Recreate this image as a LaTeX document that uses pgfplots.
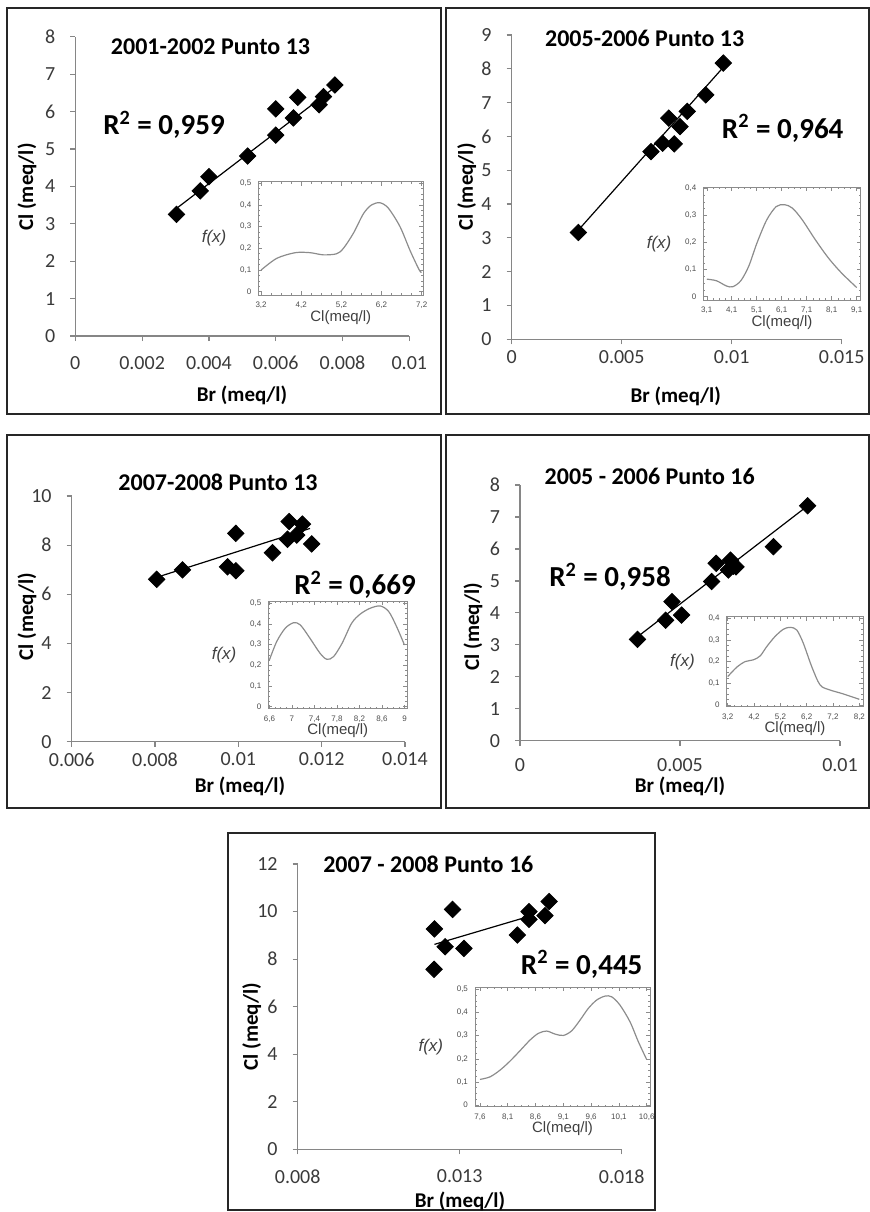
\documentclass[border=0pt]{standalone}
\usepackage{fontspec}
\setmainfont{Carlito}
\newfontfamily\insetfont{Liberation Sans}
\usepackage{pgfplots}
\pgfplotsset{compat=1.18}
\definecolor{axgray}{HTML}{868686}
\definecolor{tickgray}{HTML}{3A3A3A}
\definecolor{curvegray}{HTML}{8C8C8C}

\pgfplotsset{
  mainax/.style={
    scale only axis, anchor=south west, clip=false,
    axis lines=left, axis line style={-, axgray, line width=0.6pt},
    tick align=outside, major tick length=2.5pt,
    tick style={axgray, line width=0.6pt},
    tick label style={font=\fontsize{10}{12}\selectfont, text=tickgray},
    /pgf/number format/assume math mode=true,
    scaled ticks=false,
    xticklabel shift=4pt, yticklabel shift=4pt,
  },
  inset/.style={
    scale only axis, anchor=south west,
    axis line style={curvegray, line width=0.4pt},
    tick align=inside, major tick length=2pt, minor tick length=1pt,
    minor tick num=3, tick style={curvegray, line width=0.3pt},
    tick label style={font=\insetfont\fontsize{4}{5}\selectfont, text=black!70},
    xlabel={Cl(meq/l)}, ylabel={f(x)},
    xlabel style={font=\insetfont\fontsize{7.5}{9}\selectfont, text=black!75, yshift=6pt},
    ylabel style={font=\insetfont\itshape\fontsize{8.5}{10}\selectfont, rotate=-90, text=black!75},
    /pgf/number format/assume math mode=true,
  },
  pts/.style={only marks, mark=square*, mark size=2.9pt,
    mark options={rotate=45, fill=black, draw=black}},
  fitline/.style={black, line width=0.6pt, no marks},
  dens/.style={curvegray, line width=0.6pt, smooth, no marks},
}

\newcommand{\ttl}{\bfseries\fontsize{12}{14}\selectfont}
\newcommand{\rsq}{\bfseries\fontsize{14.5}{16}\selectfont}
\newcommand{\lab}{\bfseries\fontsize{10.5}{12}\selectfont}

\begin{document}
\begin{tikzpicture}
\path[use as bounding box] (0,0) rectangle (435pt,-606pt);

% frames
\draw[line width=1pt, black!85] (3.5pt,-4pt) rectangle (220.5pt,-207pt);
\draw[line width=1pt, black!85] (223pt,-4pt) rectangle (434.5pt,-207pt);
\draw[line width=1pt, black!85] (3.5pt,-217.5pt) rectangle (220.5pt,-404pt);
\draw[line width=1pt, black!85] (223pt,-217.5pt) rectangle (434.5pt,-404pt);
\draw[line width=1pt, black!85] (114pt,-416.5pt) rectangle (327.5pt,-605pt);

% ---- 2001-2002 Punto 13
\begin{axis}[mainax, at={(37.65pt,-168pt)}, width=167pt, height=149.65pt,
  xmin=0, xmax=0.01, ymin=0, ymax=8,
  xtick={0,0.002,0.004,0.006,0.008,0.01},
  xticklabels={0,0.002,0.004,0.006,0.008,0.01},
  ytick={0,1,...,8}]
\addplot[fitline] coordinates {(0.00303,3.41)(0.00792,6.75)};
\addplot[pts] coordinates {(0.00303,3.25)(0.00374,3.88)(0.00400,4.26)(0.00516,4.81)
  (0.00600,5.37)(0.00600,6.07)(0.00653,5.83)(0.00666,6.38)(0.00730,6.18)(0.00743,6.40)(0.00777,6.71)};
\end{axis}
\begin{axis}[inset, at={(129.15pt,-147.5pt)}, width=82.5pt, height=56.65pt,
  xmin=3.13, xmax=7.24, ymin=-0.015, ymax=0.507,
  xtick={3.2,4.2,5.2,6.2,7.2}, xticklabels={{3,2},{4,2},{5,2},{6,2},{7,2}},
  ytick={0,0.1,0.2,0.3,0.4,0.5}, yticklabels={0,{0,1},{0,2},{0,3},{0,4},{0,5}}]
\addplot[dens] coordinates {(3.2,0.10)(3.59,0.154)(4.05,0.18)(4.42,0.18)(4.75,0.17)(5.08,0.175)
  (5.25,0.20)(5.5,0.27)(5.75,0.36)(5.95,0.40)(6.16,0.41)(6.37,0.385)(6.66,0.30)(6.91,0.19)(7.14,0.10)(7.2,0.09)};
\end{axis}

% ---- 2005-2006 Punto 13
\begin{axis}[mainax, at={(255.85pt,-169.65pt)}, width=165pt, height=152.15pt,
  xmin=0, xmax=0.015, ymin=0, ymax=9, xticklabel shift=-0.5pt,
  xtick={0,0.005,0.01,0.015}, xticklabels={0,0.005,0.01,0.015},
  ytick={0,1,...,9}]
\addplot[fitline] coordinates {(0.00303,3.23)(0.00965,8.07)};
\addplot[pts] coordinates {(0.00303,3.16)(0.00633,5.55)(0.00686,5.80)(0.00714,6.54)(0.00739,5.78)
  (0.00765,6.29)(0.00798,6.74)(0.00882,7.23)(0.00962,8.17)};
\end{axis}
\begin{axis}[inset, at={(351.65pt,-150pt)}, width=78.7pt, height=56.35pt,
  xmin=2.96, xmax=9.26, ymin=-0.012, ymax=0.404,
  xtick={3.1,4.1,5.1,6.1,7.1,8.1,9.1}, xticklabels={{3,1},{4,1},{5,1},{6,1},{7,1},{8,1},{9,1}},
  ytick={0,0.1,0.2,0.3,0.4}, yticklabels={0,{0,1},{0,2},{0,3},{0,4}}]
\addplot[dens] coordinates {(3.1,0.065)(3.49,0.059)(3.88,0.040)(4.14,0.037)(4.46,0.059)(4.78,0.113)
  (5.11,0.199)(5.5,0.284)(5.88,0.333)(6.21,0.34)(6.53,0.327)(6.92,0.284)(7.44,0.211)(7.96,0.144)(8.48,0.089)(9.1,0.034)};
\end{axis}

% ---- 2007-2008 Punto 13
\begin{axis}[mainax, at={(35.85pt,-370.85pt)}, width=166.65pt, height=122.85pt,
  xmin=0.006, xmax=0.014, ymin=0, ymax=10, xticklabel shift=-0.5pt,
  xtick={0.006,0.008,0.01,0.012,0.014}, xticklabels={0.006,0.008,0.01,0.012,0.014},
  ytick={0,2,...,10}]
\addplot[fitline] coordinates {(0.00804,6.69)(0.01172,8.68)};
\addplot[pts] coordinates {(0.00804,6.61)(0.00866,6.99)(0.00974,7.12)(0.00994,6.96)(0.00994,8.48)
  (0.01082,7.69)(0.01118,8.24)(0.01122,8.96)(0.01140,8.41)(0.01154,8.86)(0.01176,8.05)};
\end{axis}
\begin{axis}[inset, at={(134.15pt,-354.35pt)}, width=69.5pt, height=53.85pt,
  xmin=6.58, xmax=9.05, ymin=-0.01, ymax=0.511,
  xtick={6.6,7,7.4,7.8,8.2,8.6,9}, xticklabels={{6,6},7,{7,4},{7,8},{8,2},{8,6},9},
  ytick={0,0.1,0.2,0.3,0.4,0.5}, yticklabels={0,{0,1},{0,2},{0,3},{0,4},{0,5}}]
\addplot[dens] coordinates {(6.6,0.226)(6.73,0.315)(6.88,0.379)(7.03,0.406)(7.15,0.395)(7.32,0.331)
  (7.5,0.258)(7.62,0.229)(7.74,0.242)(7.89,0.306)(8.06,0.403)(8.21,0.447)(8.39,0.476)(8.57,0.487)
  (8.72,0.46)(8.86,0.387)(9.0,0.298)};
\end{axis}

% ---- 2005 - 2006 Punto 16
\begin{axis}[mainax, at={(260pt,-370.35pt)}, width=160pt, height=127.85pt,
  xmin=0, xmax=0.01, ymin=0, ymax=8, xticklabel shift=3pt,
  xtick={0,0.005,0.01}, xticklabels={0,0.005,0.01},
  ytick={0,1,...,8}]
\addplot[fitline] coordinates {(0.00367,3.25)(0.00899,7.35)};
\addplot[pts] coordinates {(0.00367,3.17)(0.00455,3.77)(0.00475,4.35)(0.00505,3.93)(0.00599,4.98)
  (0.00613,5.55)(0.00651,5.34)(0.00658,5.65)(0.00667,5.46)(0.00675,5.44)(0.00792,6.07)(0.00899,7.35)};
\end{axis}
\begin{axis}[inset, at={(363.35pt,-353.35pt)}, width=68.3pt, height=45pt,
  xmin=3.16, xmax=8.35, ymin=-0.008, ymax=0.407,
  xtick={3.2,4.2,5.2,6.2,7.2,8.2}, xticklabels={{3,2},{4,2},{5,2},{6,2},{7,2},{8,2}},
  ytick={0,0.1,0.2,0.3,0.4}, yticklabels={0,{0,1},{0,2},{0,3},{0,4}}]
\addplot[dens] coordinates {(3.2,0.131)(3.54,0.174)(3.86,0.2)(4.17,0.208)(4.43,0.226)(4.68,0.269)
  (4.99,0.315)(5.31,0.349)(5.57,0.358)(5.82,0.346)(6.07,0.285)(6.39,0.177)(6.71,0.092)(7.09,0.069)
  (7.59,0.051)(8.2,0.026)};
\end{axis}

% ---- 2007 - 2008 Punto 16
\begin{axis}[mainax, at={(148.85pt,-574.65pt)}, width=162pt, height=142.65pt,
  xmin=0.008, xmax=0.018, ymin=0, ymax=12,
  xtick={0.008,0.013,0.018}, xticklabels={0.008,0.013,0.018},
  ytick={0,2,...,12}]
\addplot[fitline] coordinates {(0.01222,8.62)(0.01512,9.79)};
\addplot[pts] coordinates {(0.01222,9.27)(0.01221,7.57)(0.01255,8.52)(0.01278,10.09)(0.01313,8.45)
  (0.01478,9.01)(0.01514,10.00)(0.01514,9.67)(0.01563,9.83)(0.01576,10.42)};
\end{axis}
\begin{axis}[inset, at={(237.5pt,-553.35pt)}, width=87.5pt, height=59.7pt,
  xmin=7.51, xmax=10.66, ymin=-0.007, ymax=0.509,
  xtick={7.6,8.1,8.6,9.1,9.6,10.1,10.6}, xticklabels={{7,6},{8,1},{8,6},{9,1},{9,6},{10,1},{10,6}},
  ytick={0,0.1,0.2,0.3,0.4,0.5}, yticklabels={0,{0,1},{0,2},{0,3},{0,4},{0,5}}]
\addplot[dens] coordinates {(7.6,0.111)(7.78,0.122)(7.96,0.151)(8.14,0.19)(8.32,0.235)(8.5,0.281)
  (8.65,0.31)(8.8,0.32)(8.95,0.307)(9.1,0.301)(9.25,0.321)(9.4,0.367)(9.55,0.418)(9.7,0.454)
  (9.85,0.471)(9.97,0.468)(10.12,0.432)(10.3,0.36)(10.45,0.274)(10.6,0.197)};
\end{axis}

% titles, R2 and axis labels
\node[font=\ttl] at (105.25pt,-23.35pt) {2001-2002 Punto 13};
\node[font=\ttl] at (322.35pt,-19.15pt) {2005-2006 Punto 13};
\node[font=\ttl] at (109pt,-241.35pt) {2007-2008 Punto 13};
\node[font=\ttl] at (324.85pt,-238pt) {2005 - 2006 Punto 16};
\node[font=\ttl] at (214.15pt,-432pt) {2007 - 2008 Punto 16};

\node[font=\rsq] at (82pt,-62.5pt) {R\textsuperscript{2} = 0,959};
\node[font=\rsq] at (391.35pt,-64.15pt) {R\textsuperscript{2} = 0,964};
\node[font=\rsq] at (177.5pt,-292.5pt) {R\textsuperscript{2} = 0,669};
\node[font=\rsq] at (305pt,-288.35pt) {R\textsuperscript{2} = 0,958};
\node[font=\rsq] at (290.85pt,-482.15pt) {R\textsuperscript{2} = 0,445};

\begin{scope}[every node/.style={inner sep=0.5pt}]
\node[font=\lab] at (121pt,-197.5pt) {Br (meq/l)};
\node[font=\lab] at (337.85pt,-198.35pt) {Br (meq/l)};
\node[font=\lab] at (120pt,-393pt) {Br (meq/l)};
\node[font=\lab] at (340pt,-393pt) {Br (meq/l)};
\node[font=\lab] at (230pt,-600.5pt) {Br (meq/l)};

\node[font=\lab, rotate=90] at (13.5pt,-93.5pt) {Cl (meq/l)};
\node[font=\lab, rotate=90] at (233.35pt,-93.5pt) {Cl (meq/l)};
\node[font=\lab, rotate=90] at (13.5pt,-308.35pt) {Cl (meq/l)};
\node[font=\lab, rotate=90] at (236.5pt,-313.35pt) {Cl (meq/l)};
\node[font=\lab, rotate=90] at (125.85pt,-513.35pt) {Cl (meq/l)};
\end{scope}
\end{tikzpicture}
\end{document}
